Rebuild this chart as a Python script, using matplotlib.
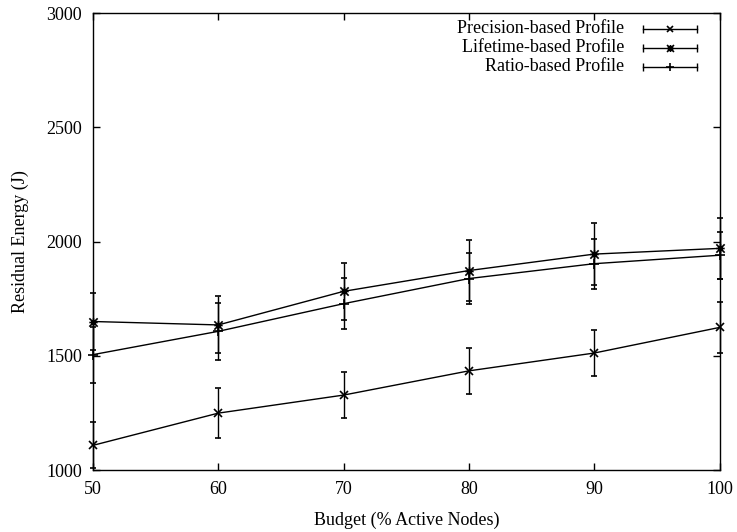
import numpy as np
import matplotlib.pyplot as plt
from matplotlib.path import Path

plt.rcParams['font.family'] = ['Liberation Serif', 'DejaVu Serif']
plt.rcParams['font.size'] = 13

budget = [50, 60, 70, 80, 90, 100]

precision = [1108, 1249, 1328, 1434, 1512, 1624]
precision_err = [100, 110, 100, 100, 102, 110]

lifetime = [1650, 1635, 1782, 1873, 1945, 1970]
lifetime_err = [125, 125, 125, 133, 135, 133]

ratio = [1505, 1607, 1728, 1838, 1903, 1940]
ratio_err = [123, 125, 113, 112, 110, 103]

labels = ["Precision-based Profile", "Lifetime-based Profile", "Ratio-based Profile"]

# gnuplot-style asterisk: a cross and a plus on top of each other
star = Path([(-1, -1), (1, 1), (-1, 1), (1, -1), (-1, 0), (1, 0), (0, -1), (0, 1)],
            [Path.MOVETO, Path.LINETO] * 4)
markers = ["x", star, "+"]
series = [(precision, precision_err), (lifetime, lifetime_err), (ratio, ratio_err)]
sizes = [6, 6, 7]

fig = plt.figure(figsize=(7.37, 5.32), dpi=100)
ax = fig.add_axes([0.1262, 0.1165, 0.8501, 0.859])

for (vals, err), m, ms in zip(series, markers, sizes):
    ax.errorbar(budget, vals, yerr=err, color="black", lw=1.0, elinewidth=1.0,
                capsize=2.5, capthick=1.0, marker=m, markersize=ms,
                markeredgewidth=1.2, markerfacecolor="none", clip_on=False)

ax.set_xlim(50, 100)
ax.set_ylim(1000, 3000)
ax.set_xticks(range(50, 101, 10))
ax.set_yticks(range(1000, 3001, 500))
ax.tick_params(direction="in", length=5, width=1.0, top=True, right=True, pad=8)
for s in ax.spines.values():
    s.set_linewidth(1.0)

ax.set_xlabel("Budget (% Active Nodes)", labelpad=10)
ax.set_ylabel("Residual Energy (J)", labelpad=12)

# key in the top right corner: text, then a line sample with end caps
tr = ax.transAxes
x0, x1, xm = 0.878, 0.964, 0.921
for i, (lab, m, ms) in enumerate(zip(labels, markers, sizes)):
    y = 0.9657 - i * 0.0416
    ax.text(0.848, y, lab, transform=tr, ha="right", va="center")
    ax.plot([x0, x1], [y, y], color="black", lw=1.0, transform=tr)
    ax.plot([x0, x1], [y, y], ls="none", marker="|", markersize=6,
            markeredgewidth=1.0, color="black", transform=tr)
    ax.plot([xm], [y], ls="none", marker=m, markersize=ms - 1,
            markeredgewidth=1.2, color="black", transform=tr)

fig.savefig("out.png", dpi=100)
